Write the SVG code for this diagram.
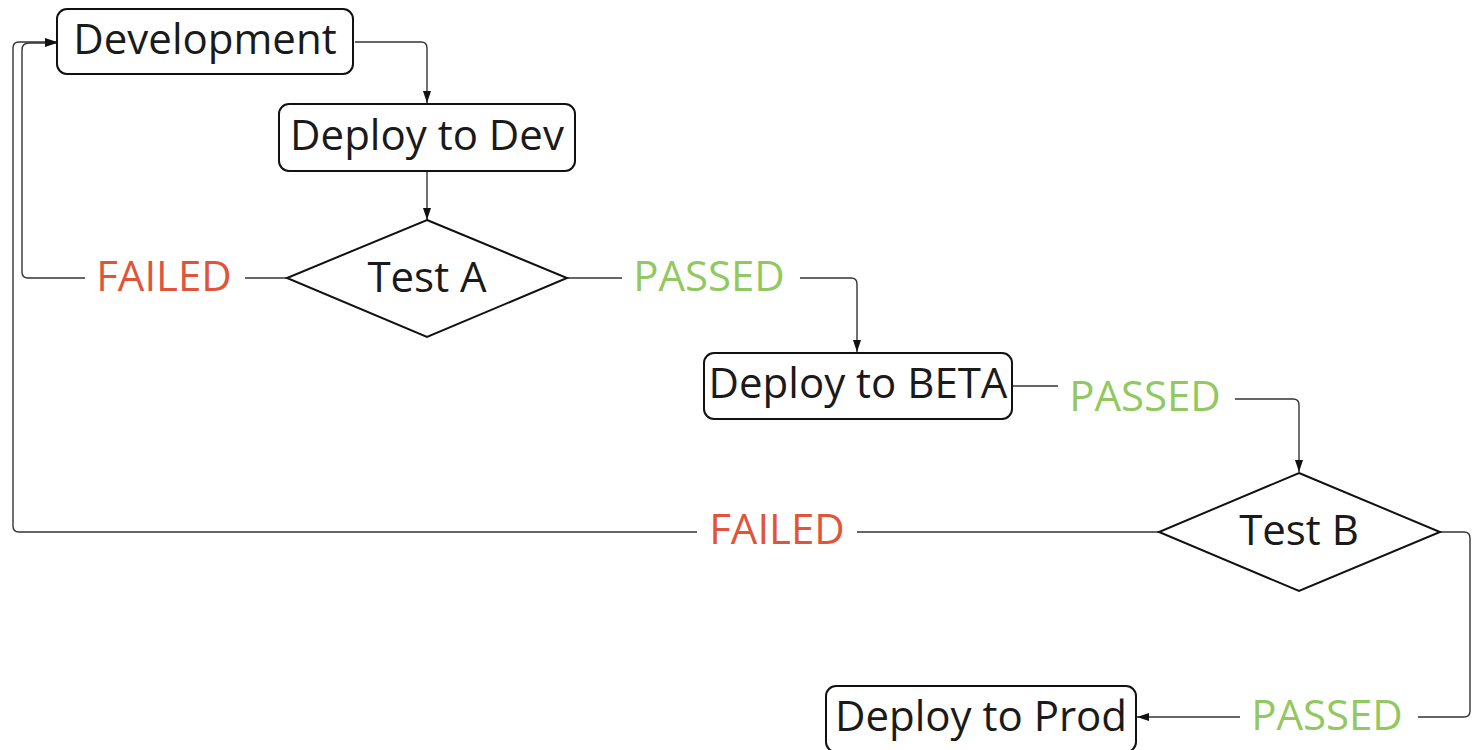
<svg xmlns="http://www.w3.org/2000/svg" width="1476" height="750" viewBox="0 0 1476 750">
<style>
.box{fill:#fff;stroke:#111;stroke-width:2}
.t{font-family:"Open Sans","Liberation Sans",sans-serif;font-size:42px;fill:#1a1a1a;text-anchor:middle}
.fail{fill:#e0553a}
.pass{fill:#92c860}
.c{fill:none;stroke:#333;stroke-width:1.4}
</style>
<defs>
<marker id="ah" viewBox="0 0 12 10" refX="12" refY="5" markerWidth="12" markerHeight="10" markerUnits="userSpaceOnUse" orient="auto">
<path d="M0,1 L12,5 L0,9 Z" fill="#111"/>
</marker>
</defs>
<rect width="1476" height="750" fill="#fff"/>
<g id="connectors">
<path class="c" d="M355,42 H421 Q427,42 427,48 V103" marker-end="url(#ah)"/>
<path class="c" d="M427,172 V220" marker-end="url(#ah)"/>
<path class="c" d="M287,278 H245"/>
<path class="c" d="M85,278 H28 Q22,278 22,272 V50 Q22,43 29,43 H57" marker-end="url(#ah)"/>
<path class="c" d="M567,278 H622"/>
<path class="c" d="M800,278 H851 Q857,278 857,284 V352" marker-end="url(#ah)"/>
<path class="c" d="M1013,386 H1058"/>
<path class="c" d="M1235,399 H1293 Q1299,399 1299,405 V472" marker-end="url(#ah)"/>
<path class="c" d="M1159,532 H857"/>
<path class="c" d="M697,532 H19 Q13,532 13,526 V48 Q13,42 19,42 H57" marker-end="url(#ah)"/>
<path class="c" d="M1440,532 H1464 Q1470,532 1470,538 V711 Q1470,717 1464,717 H1418"/>
<path class="c" d="M1240,717 H1137" marker-end="url(#ah)"/>
<text class="t fail" x="164" y="291">FAILED</text>
<text class="t pass" x="709" y="291">PASSED</text>
<text class="t pass" x="1145" y="411">PASSED</text>
<text class="t fail" x="777" y="544">FAILED</text>
<text class="t pass" x="1327" y="730">PASSED</text>
</g>
<g id="development">
<rect class="box" x="57" y="9" width="296" height="65" rx="10"/>
<text class="t" x="205" y="54">Development</text>
</g>
<g id="deploy-dev">
<rect class="box" x="279" y="104" width="296" height="67" rx="10"/>
<text class="t" x="427" y="150">Deploy to Dev</text>
</g>
<g id="test-a">
<polygon class="box" points="427,220 567,278 427,337 287,278"/>
<text class="t" x="427" y="292">Test A</text>
</g>
<g id="deploy-beta">
<rect class="box" x="704" y="353" width="308" height="66" rx="10"/>
<text class="t" x="858" y="398">Deploy to BETA</text>
</g>
<g id="test-b">
<polygon class="box" points="1299,473 1440,532 1299,591 1159,532"/>
<text class="t" x="1299" y="545">Test B</text>
</g>
<g id="deploy-prod">
<rect class="box" x="826" y="686" width="310" height="66" rx="10"/>
<text class="t" x="981" y="731">Deploy to Prod</text>
</g>
</svg>
